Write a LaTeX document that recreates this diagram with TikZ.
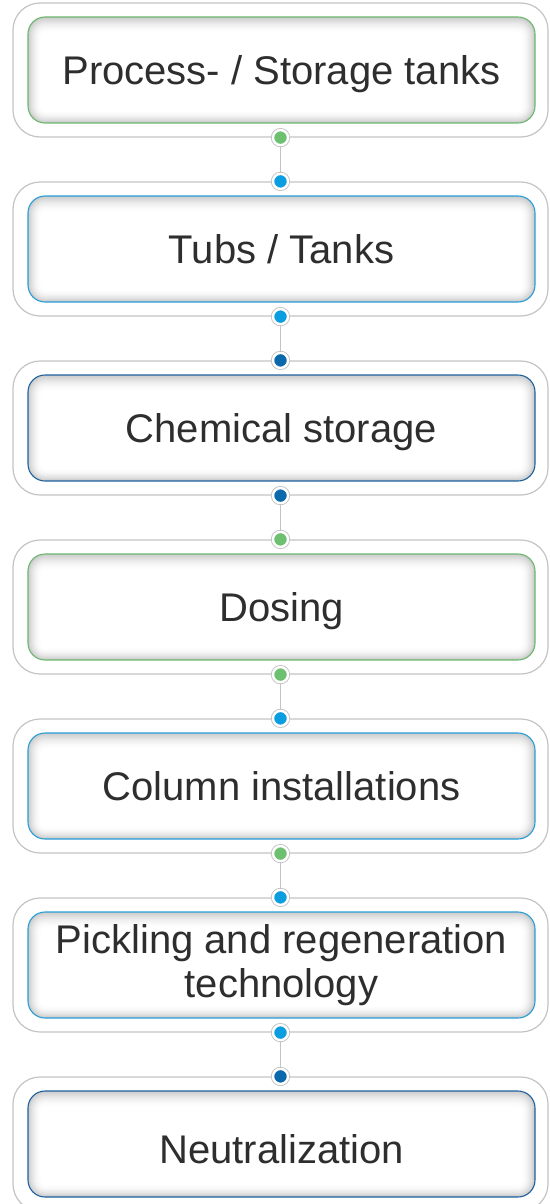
\documentclass[tikz,border=0pt]{standalone}
\usepackage{fontspec}
\setmainfont{Liberation Sans}
\definecolor{dotgreen}{HTML}{6CC070}
\definecolor{dotblue}{HTML}{0A9DE0}
\definecolor{dotdark}{HTML}{0A68AC}
\definecolor{lngreen}{HTML}{6DB86F}
\definecolor{lnblue}{HTML}{2A9ED8}
\definecolor{lndark}{HTML}{1F63A0}
\definecolor{ringgray}{HTML}{C4C4C4}
\definecolor{txt}{HTML}{2E2E2E}
\tikzset{
  outerbox/.style={draw=ringgray, line width=1.2pt, fill=white, rounded corners=27pt,
    minimum width=535pt, minimum height=134pt, inner sep=0pt},
  innerbox/.style={draw=#1, line width=1.1pt, fill=white, rounded corners=17pt,
    minimum width=507pt, minimum height=106pt, inner sep=0pt, align=center,
    text=txt, font=\fontsize{40}{44}\selectfont,
    path picture={
      \foreach \k in {0,...,13}{
        \pgfmathsetmacro\c{21*(1-\k/14)^2}
        \pgfmathsetmacro\r{max(17-\k,3)}
        \fill[black!\c, rounded corners=\r pt]
          ([xshift=\k pt, yshift=-1.2*\k pt]path picture bounding box.north west) rectangle
          ([xshift=-\k pt, yshift=0.9*\k pt]path picture bounding box.south east);
      }
    }},
  oneline/.style={text height=29pt, text depth=0pt},
  onelinelow/.style={text height=39pt, text depth=0pt},
  dotnode/.style={circle, minimum size=15pt, inner sep=0pt, fill=#1, draw=white,
    line width=2.4pt, preaction={draw=ringgray, line width=4.2pt}},
  conn/.style={draw=ringgray, line width=1.5pt}
}
\begin{document}
\begin{tikzpicture}[x=1pt,y=-1pt]
\useasboundingbox (0,0) rectangle (549,1204);
\clip (0,0) rectangle (549,1204);
\foreach \i/\lc/\st/\t in {1/lngreen/oneline/{Process- / Storage tanks},
                       2/lnblue/oneline/{Tubs / Tanks},
                       3/lndark/oneline/{Chemical storage},
                       4/lngreen/oneline/{Dosing},
                       5/lnblue/oneline/{Column installations},
                       6/lnblue/{}/{Pickling and regeneration\\technology},
                       7/lndark/onelinelow/{Neutralization}}{
  \node[outerbox] (o\i) at (280.5, {70+179*(\i-1)}) {};
  \node[innerbox=\lc, \st] (b\i) at (281.5, {70+179*(\i-1)}) {\t};
}
% dots
\node[dotnode=dotgreen] (d1b) at (o1.south) {};
\node[dotnode=dotblue]  (d2t) at (o2.north) {};
\node[dotnode=dotblue]  (d2b) at (o2.south) {};
\node[dotnode=dotdark]  (d3t) at (o3.north) {};
\node[dotnode=dotdark]  (d3b) at (o3.south) {};
\node[dotnode=dotgreen] (d4t) at (o4.north) {};
\node[dotnode=dotgreen] (d4b) at (o4.south) {};
\node[dotnode=dotblue]  (d5t) at (o5.north) {};
\node[dotnode=dotgreen] (d5b) at (o5.south) {};
\node[dotnode=dotblue]  (d6t) at (o6.north) {};
\node[dotnode=dotblue]  (d6b) at (o6.south) {};
\node[dotnode=dotdark]  (d7t) at (o7.north) {};
% connectors
\draw[conn] (d1b) -- (d2t);
\draw[conn] (d2b) -- (d3t);
\draw[conn] (d3b) -- (d4t);
\draw[conn] (d4b) -- (d5t);
\draw[conn] (d5b) -- (d6t);
\draw[conn] (d6b) -- (d7t);
\end{tikzpicture}
\end{document}
